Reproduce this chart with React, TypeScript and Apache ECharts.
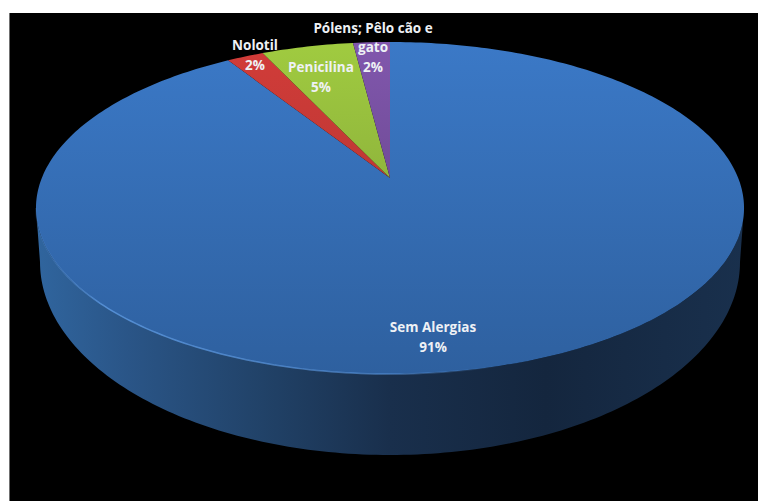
import React, { useEffect, useRef } from "react";
import * as echarts from "echarts";

// Allergy survey shares, clockwise from twelve o'clock
const categories = ["Sem Alergias", "Nolotil", "Penicilina", "Pólens; Pêlo cão e gato"];
const shares = [91, 2, 5, 2];
const labelNames = ["Sem Alergias", "Nolotil", "Penicilina", "Pólens; Pêlo cão e\ngato"];
const labelCentres = [
  [433, 337],
  [255, 55],
  [321, 77],
  [373, 47],
];
const topColours = [
  ["#3b79c7", "#2e609f"],
  ["#d23c39", "#a4322e"],
  ["#a0cb40", "#7a9836"],
  ["#8157ad", "#5a3d7c"],
];

// Perspective disc: the far rim is compressed, so the hub sits above the ellipse's centre
const CX = 390;
const HUB_Y = 178;
const A = 348.2;
const B = 160.6;
const K = 0.1807;
const RAD = Math.PI / 180;

const rimTop = (deg: number): number[] => {
  const w = 1 + K * Math.cos(deg * RAD);
  return [CX + (A * Math.sin(deg * RAD)) / w, HUB_Y - (B * Math.cos(deg * RAD)) / w];
};

const VISIBLE_FROM = Math.acos(-K) / RAD;
const VISIBLE_TO = 360 - VISIBLE_FROM;

// Lower outline of the wall, from its right-hand extreme round to its left-hand one
const rimBottom = (deg: number): number[] => {
  const phi = (90 + ((deg - VISIBLE_FROM) / (VISIBLE_TO - VISIBLE_FROM)) * 180) * RAD;
  return [CX + 350 * Math.sin(phi), 262 - 193 * Math.cos(phi)];
};

const sample = (from: number, to: number, f: (d: number) => number[]): number[][] => {
  const out: number[][] = [];
  const n = Math.max(2, Math.ceil(to - from));
  for (let i = 0; i <= n; i++) out.push(f(from + ((to - from) * i) / n));
  return out;
};

const total = shares.reduce((a, b) => a + b, 0);

const sweep = (index: number): number[] => {
  const before = shares.slice(0, index).reduce((a, b) => a + b, 0);
  return [(before / total) * 360, ((before + shares[index]) / total) * 360];
};

const wallFill = new echarts.graphic.LinearGradient(
  36,
  0,
  744,
  0,
  [
    { offset: 0, color: "#30659e" },
    { offset: 0.13, color: "#2a5587" },
    { offset: 0.32, color: "#214268" },
    { offset: 0.5, color: "#192f4c" },
    { offset: 0.72, color: "#14263e" },
    { offset: 1, color: "#19304d" },
  ],
  true,
);

const rimGlow = new echarts.graphic.LinearGradient(
  36,
  0,
  500,
  0,
  [
    { offset: 0, color: "rgba(90,150,222,0.15)" },
    { offset: 0.15, color: "rgba(90,150,222,0.9)" },
    { offset: 0.75, color: "rgba(90,150,222,0.6)" },
    { offset: 1, color: "rgba(90,150,222,0)" },
  ],
  true,
);

const renderSlice = (params: any) => {
  const [from, to] = sweep(params.dataIndex);
  const children: any[] = [];
  const wallFrom = Math.max(from, VISIBLE_FROM);
  const wallTo = Math.min(to, VISIBLE_TO);
  if (wallTo > wallFrom) {
    children.push({
      type: "polygon",
      shape: {
        points: [...sample(wallFrom, wallTo, rimBottom).reverse(), ...sample(wallFrom, wallTo, rimTop)],
      },
      style: { fill: wallFill },
    });
  }
  const [c0, c1] = topColours[params.dataIndex];
  children.push({
    type: "polygon",
    shape: { points: [[CX, HUB_Y], ...sample(from, to, rimTop)] },
    style: {
      fill: new echarts.graphic.LinearGradient(0, 42, 0, 374, [
        { offset: 0, color: c0 },
        { offset: 1, color: c1 },
      ], true),
    },
  });
  if (wallTo > wallFrom) {
    children.push({
      type: "polyline",
      shape: { points: sample(wallFrom, wallTo, rimTop) },
      style: { fill: "none", stroke: rimGlow, lineWidth: 1.5 },
    });
  }
  return { type: "group", children };
};

const renderLabel = (params: any, api: any) => {
  const [x, y] = labelCentres[params.dataIndex];
  return {
    type: "text",
    x,
    y,
    style: {
      text: `${labelNames[params.dataIndex]}\n${api.value(0)}%`,
      fill: "#eef1f5",
      font: 'bold 13.5px "Open Sans", sans-serif',
      lineHeight: 19.5,
      align: "center",
      verticalAlign: "middle",
    },
  };
};

export default function App() {
  const ref = useRef<HTMLDivElement>(null);

  useEffect(() => {
    const chart = echarts.init(ref.current!, undefined, { renderer: "svg" });
    chart.setOption({
      animation: false,
      backgroundColor: "#ffffff",
      graphic: [
        { type: "rect", z: -1, shape: { x: 9, y: 13, width: 749, height: 488 }, style: { fill: "#000000" } },
        { type: "rect", z: -1, shape: { x: 9, y: 13, width: 1, height: 488 }, style: { fill: "#707070" } },
      ],
      series: [
        {
          type: "custom",
          coordinateSystem: "none",
          name: "Alergias",
          data: shares.map((v, i) => ({ name: categories[i], value: [v] })),
          renderItem: renderSlice,
          silent: true,
        },
        {
          type: "custom",
          coordinateSystem: "none",
          name: "Rótulos",
          z: 5,
          data: shares.map((v, i) => ({ name: categories[i], value: [v] })),
          renderItem: renderLabel,
          silent: true,
        },
      ],
    });
    return () => chart.dispose();
  }, []);

  return <div ref={ref} style={{ position: "absolute", left: 0, top: 0, width: 758, height: 501 }} />;
}
